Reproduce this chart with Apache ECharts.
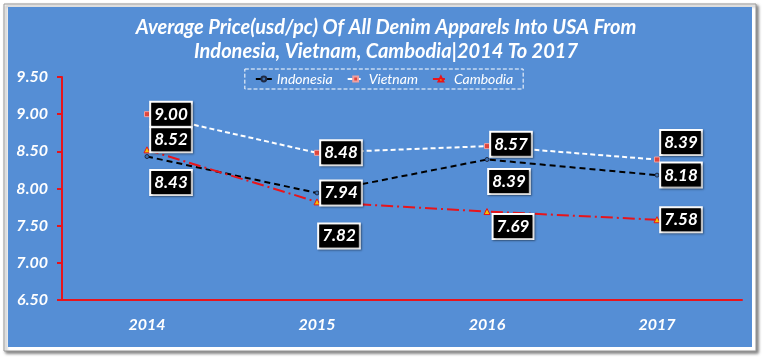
<!DOCTYPE html>
<html><head><meta charset="utf-8">
<script src="https://cdn.jsdelivr.net/npm/echarts@6/dist/echarts.min.js"></script>
<style>html,body{margin:0;padding:0;background:#fff}#c{width:768px;height:359px}</style>
</head><body><div id="c"></div>
<script>
const categories = ['2014', '2015', '2016', '2017'];
const indonesia = [8.43, 7.94, 8.39, 8.18];
const vietnam = [9.00, 8.48, 8.57, 8.39];
const cambodia = [8.52, 7.82, 7.69, 7.58];
const yTicks = { min: 6.5, max: 9.5, interval: 0.5 };

const FONT = 'Lato';
// label offsets (layout only)
const offInd = [[24, 26], [24, 0], [22, 22], [24, 0]];
const offViet = [[24, 0], [24, 0], [24, -2], [24, -17]];
const offCam = [[24, -10], [22, 34], [26, 15], [24, 0]];

function mk(vals, offs) {
  return vals.map((v, i) => ({ value: v, label: { offset: offs[i] } }));
}
const labelStyle = {
  show: true, position: 'inside', formatter: p => p.value.toFixed(2),
  color: '#fff', fontFamily: FONT, fontWeight: 'bold', fontStyle: 'italic', fontSize: 17,
  backgroundColor: '#000', borderColor: '#fff', borderWidth: 2,
  padding: [4, 3, 2, 3], shadowColor: 'rgba(0,0,0,0.4)', shadowBlur: 2, shadowOffsetX: 1, shadowOffsetY: 1
};

const chart = echarts.init(document.getElementById('c'), null, { renderer: 'canvas' });
chart.setOption({
  backgroundColor: '#fff',
  animation: false,
  graphic: [
    { type: 'rect', shape: { x: 4, y: 4, width: 752, height: 347 }, style: { fill: '#fff', stroke: '#999', lineWidth: 1, shadowColor: 'rgba(0,0,0,0.5)', shadowBlur: 3, shadowOffsetX: 2, shadowOffsetY: 2 }, z: -10 },
    { type: 'rect', shape: { x: 8, y: 7, width: 744, height: 340 }, style: { fill: '#558ED5' }, z: -9 }
  ],
  title: {
    text: 'Average Price(usd/pc) Of All Denim Apparels Into USA From\nIndonesia, Vietnam, Cambodia|2014 To 2017',
    left: 381, top: 11, textAlign: 'center',
    textStyle: { color: '#fff', fontFamily: FONT, fontWeight: 'bold', fontStyle: 'italic', fontSize: 20, lineHeight: 24 }
  },
  legend: {
    top: 69, left: 'center', itemWidth: 16, itemHeight: 6, itemGap: 14,
    padding: [3, 10, 3, 10],
    borderColor: '#fff', borderWidth: 1, borderType: 'dashed',
    textStyle: { color: '#fff', fontFamily: FONT, fontStyle: 'italic', fontSize: 14 },
    data: ['Indonesia', 'Vietnam', 'Cambodia']
  },
  grid: { left: 62, right: 26, top: 77, bottom: 59 },
  xAxis: {
    type: 'category', data: categories, boundaryGap: true,
    axisLine: { lineStyle: { color: '#E8141B', width: 2 } },
    axisTick: { show: false },
    axisLabel: { color: '#fff', fontFamily: FONT, fontWeight: 'bold', fontStyle: 'italic', fontSize: 16, margin: 17 }
  },
  yAxis: {
    type: 'value', min: yTicks.min, max: yTicks.max, interval: yTicks.interval,
    axisLine: { show: true, lineStyle: { color: '#E8141B', width: 2 } },
    axisTick: { show: true, length: 5, lineStyle: { color: '#E8141B', width: 2 } },
    splitLine: { show: false },
    axisLabel: { color: '#fff', fontFamily: FONT, fontWeight: 'bold', fontStyle: 'italic', fontSize: 16, margin: 14, formatter: v => v.toFixed(2) }
  },
  series: [
    { name: 'Indonesia', type: 'line', data: mk(indonesia, offInd), symbol: 'circle', symbolSize: 4,
      itemStyle: { color: '#3a6fb0', borderColor: '#1f2a44', borderWidth: 1 },
      lineStyle: { color: '#000', width: 2, type: [6, 4] }, label: labelStyle, z: 3 },
    { name: 'Vietnam', type: 'line', data: mk(vietnam, offViet), symbol: 'rect', symbolSize: 5,
      itemStyle: { color: '#E0453B', borderColor: '#f0a0a0', borderWidth: 1 },
      lineStyle: { color: '#fff', width: 2, type: [5, 3] }, label: labelStyle, z: 3 },
    { name: 'Cambodia', type: 'line', data: mk(cambodia, offCam), symbol: 'triangle', symbolSize: 6,
      itemStyle: { color: '#F2C200', borderColor: '#E8141B', borderWidth: 1 },
      lineStyle: { color: '#E8141B', width: 2, type: [12, 4, 2, 4] }, label: labelStyle, z: 3 }
  ]
});
</script></body></html>
